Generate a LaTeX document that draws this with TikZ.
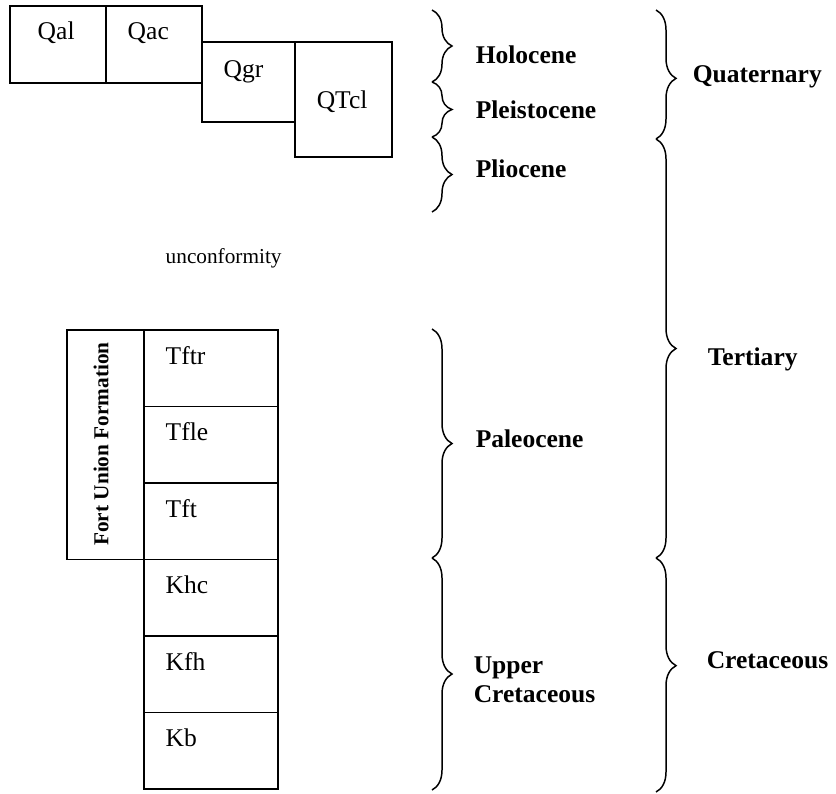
\documentclass[tikz,border=0pt]{standalone}
\usepackage{fontspec}
\setmainfont{Liberation Serif}
\usetikzlibrary{decorations.pathreplacing}

\tikzset{
  unit/.style={inner sep=0pt, anchor=base west, font=\fontsize{12}{14}\selectfont},
  epoch/.style={inner sep=0pt, anchor=base west, align=left, font=\fontsize{12}{13.6}\selectfont\bfseries},
  curly/.style={decorate, decoration={brace, amplitude=9.4pt}},
}

\begin{document}
\begin{tikzpicture}[x=0.47pt, y=-0.47pt, line width=0.7pt]
        \useasboundingbox (0,0) rectangle (836,793);

        % Quaternary units
        \draw (10,6) rectangle (106,83);
        \draw (106,6) rectangle (202,83);
        \draw (202,42) rectangle (295,122);
        \draw (295,42) rectangle (392,157);
        \node[unit] (Qal) at (37,39) {Qal};
        \node[unit] (Qac) at (127,39) {Qac};
        \node[unit] (Qgr) at (223,77) {Qgr};
        \node[unit] (QTcl) at (316,108) {QTcl};

        \node[unit, font=\fontsize{10}{12}\selectfont] (Unconformity) at (165,263) {unconformity};

        % Fort Union and Cretaceous column
        \draw (67,330) rectangle (144,559.5);
        \node[rotate=90, inner sep=0pt, font=\fontsize{10}{12}\selectfont\bfseries] (FortUnion) at (101,444) {Fort Union Formation};
        \foreach \name [count=\i from 0] in {Tftr,Tfle,Tft,Khc,Kfh,Kb}{
          \draw (144,{330+76.5*\i}) rectangle (278,{406.5+76.5*\i});
          \node[unit] (\name) at (165,{364+76.5*\i}) {\name};
        }

        % epochs
        \foreach \top/\bot in {10/82, 82/137, 137/212, 329/558, 558/790}{
          \draw[curly] (432,\top) -- (432,\bot);
        }
        \foreach \name/\y in {Holocene/63, Pleistocene/118, Pliocene/177, Paleocene/447}{
          \node[epoch] (\name) at (475,\y) {\name};
        }
        \node[epoch] (UpperCretaceous) at (473,702) {Upper\\Cretaceous};

        % periods
        \draw[curly, decoration={aspect=0.53}] (656,10) -- (656,139);
        \draw[curly] (656,139) -- (656,558);
        \draw[curly, decoration={aspect=0.46}] (656,558) -- (656,792);
        \node[epoch] (Quaternary) at (692,82) {Quaternary};
        \node[epoch] (Tertiary) at (707,365) {Tertiary};
        \node[epoch] (Cretaceous) at (706,668) {Cretaceous};
\end{tikzpicture}
\end{document}
